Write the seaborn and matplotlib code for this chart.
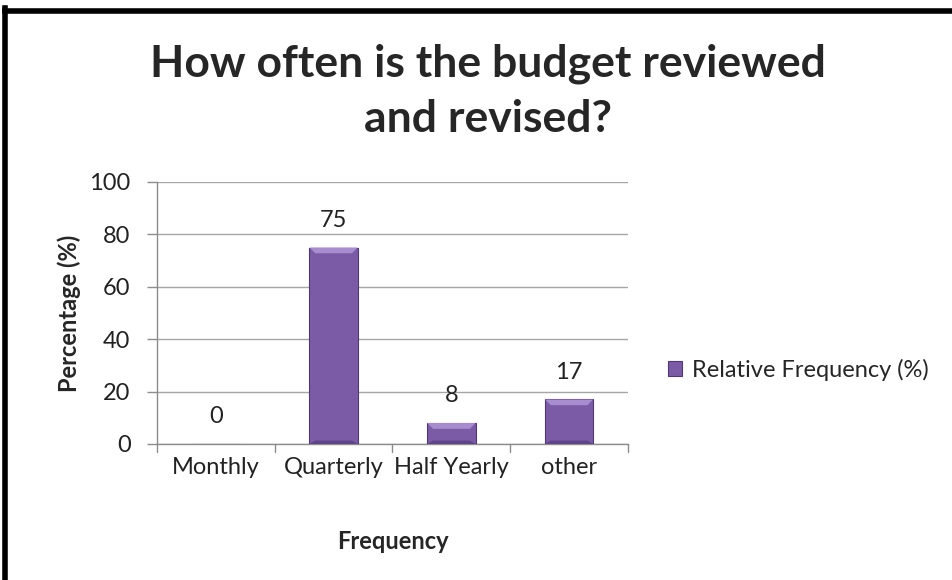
import matplotlib
matplotlib.use("Agg")
import matplotlib.pyplot as plt
import matplotlib.patches as mpatches
from matplotlib.lines import Line2D
import seaborn as sns
import pandas as pd

categories = ["Monthly", "Quarterly", "Half Yearly", "other"]
values = [0, 75, 8, 17]
y_ticks = [0, 20, 40, 60, 80, 100]
series_name = "Relative Frequency (%)"

sns.set_theme(style="white")
plt.rcParams["font.family"] = ["Lato", "DejaVu Sans"]

df = pd.DataFrame({"Frequency": categories, "Percentage": values})

fig = plt.figure(figsize=(9.53, 5.80), dpi=100)
ax = fig.add_axes([157 / 953, 1 - 444 / 580, (628 - 157) / 953, (444 - 182) / 580])

bar_color = "#7B5BA6"
edge_color = "#4E3774"
sns.barplot(data=df, x="Frequency", y="Percentage", color=bar_color,
            width=0.41, saturation=1, edgecolor=edge_color, linewidth=0.8,
            ax=ax, zorder=3)

# bevel highlight on each bar: lighter cap and darker base
for patch in ax.patches:
    x0, w, h = patch.get_x(), patch.get_width(), patch.get_height()
    if h <= 0:
        continue
    cap = min(2.2, h * 0.3)
    inset = w * 0.12
    ax.add_patch(mpatches.Polygon(
        [(x0, h), (x0 + w, h), (x0 + w - inset, h - cap), (x0 + inset, h - cap)],
        closed=True, facecolor="#A88CD0", edgecolor="none", zorder=4))
    ax.add_patch(mpatches.Polygon(
        [(x0, 0), (x0 + w, 0), (x0 + w - inset, cap * 0.6), (x0 + inset, cap * 0.6)],
        closed=True, facecolor="#5E4488", edgecolor="none", zorder=4))

ax.set_ylim(0, 100)
ax.set_xlim(-0.5, len(categories) - 0.5)
ax.set_yticks(y_ticks)
ax.set_yticklabels([str(t) for t in y_ticks], fontsize=17, color="#222222")
ax.tick_params(axis="x", labelsize=17, labelcolor="#222222", pad=9, length=0)
ax.yaxis.grid(True, color="#A6A6A6", linewidth=1.0, zorder=0)
ax.set_axisbelow(True)

# category boundary ticks below the x axis
for b in [i - 0.5 for i in range(len(categories) + 1)]:
    ax.plot([b, b], [0, -3.0], color="#8C8C8C", linewidth=1.0, clip_on=False, zorder=2)
# outer y ticks
ax.tick_params(axis="y", length=7, width=1.0, color="#8C8C8C", left=True,
               direction="out", pad=12)

for s in ["top", "right"]:
    ax.spines[s].set_visible(False)
for s in ["left", "bottom"]:
    ax.spines[s].set_color("#8C8C8C")
    ax.spines[s].set_linewidth(1.0)

for i, v in enumerate(values):
    ax.annotate(str(v), (i, v), xytext=(0, 12), textcoords="offset points",
                ha="center", va="bottom", fontsize=17, color="#222222")

ax.set_xlabel("Frequency", fontsize=17, fontweight="bold", labelpad=38)
ax.set_ylabel("Percentage (%)", fontsize=17, fontweight="bold", labelpad=6)

fig.suptitle("How often is the budget reviewed\nand revised?", fontsize=32,
             fontweight="bold", y=0.925, x=0.512, linespacing=1.45)

handle = mpatches.Patch(facecolor=bar_color, edgecolor=edge_color, linewidth=0.8)
fig.legend([handle], [series_name], loc="center left",
           bbox_to_anchor=(668 / 953, 1 - 370 / 580), frameon=False,
           fontsize=17, handlelength=0.6, handleheight=0.6, handletextpad=0.4,
           borderaxespad=0, borderpad=0)

# black frame along the top and left edges
fig.add_artist(Line2D([5.5 / 953, 5.5 / 953], [0, 1 - 8 / 580], color="black",
                      linewidth=4, transform=fig.transFigure, solid_capstyle="projecting"))
fig.add_artist(Line2D([5.5 / 953, 1], [1 - 10.5 / 580, 1 - 10.5 / 580], color="black",
                      linewidth=4, transform=fig.transFigure, solid_capstyle="projecting"))

fig.savefig("out.png", dpi=100, facecolor="white")
